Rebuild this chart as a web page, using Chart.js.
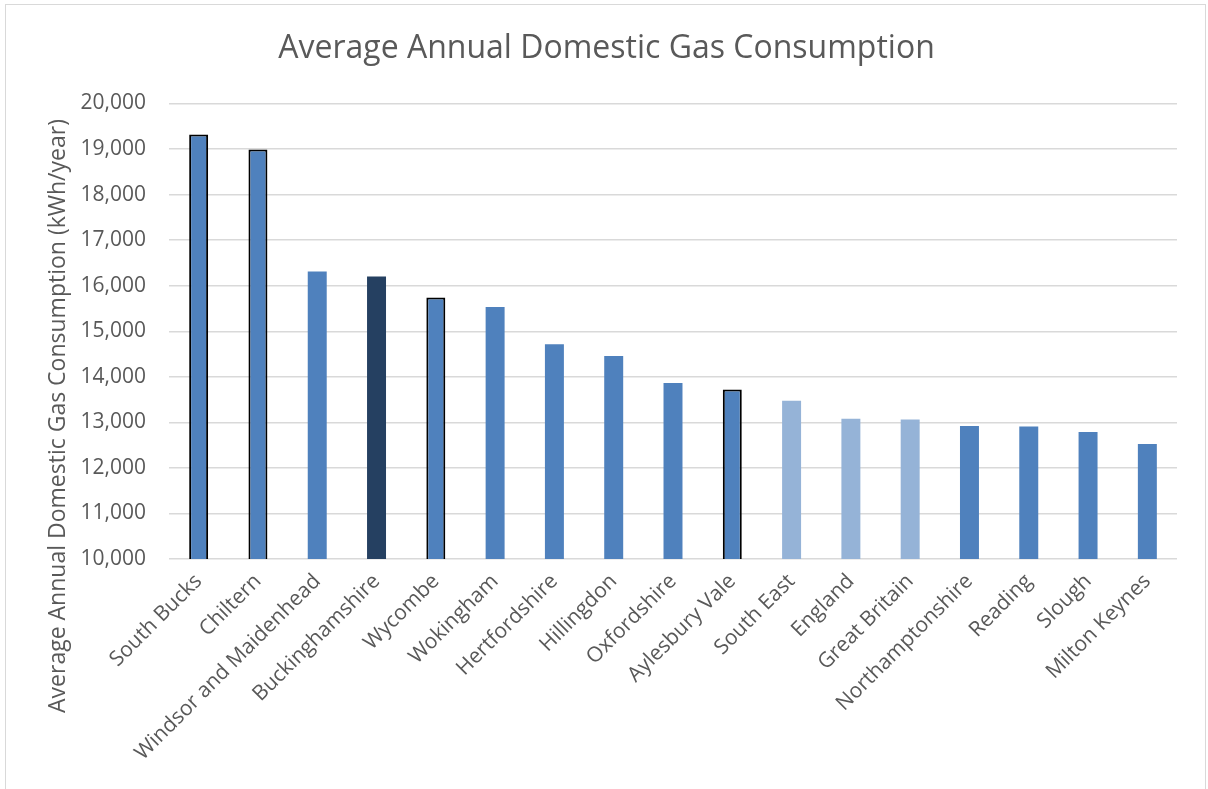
<!DOCTYPE html>
<html>
<head>
<meta charset="utf-8">
<title>Average Annual Domestic Gas Consumption</title>
<script src="https://cdn.jsdelivr.net/npm/chart.js@4"></script>
<style>
  html, body { margin: 0; padding: 0; background: #fff; overflow: hidden; }
  #frame {
    position: absolute; left: 5px; top: 4px;
    width: 1201px; height: 800px;
    border: 1px solid #d9d9d9; box-sizing: border-box;
  }
  #chart { display: block; }
</style>
</head>
<body>
<div id="frame"><canvas id="chart" width="1199" height="798"></canvas></div>
<script>
// Local authorities and comparison areas, highest to lowest
const areas = [
  "South Bucks", "Chiltern", "Windsor and Maidenhead", "Buckinghamshire", "Wycombe",
  "Wokingham", "Hertfordshire", "Hillingdon", "Oxfordshire", "Aylesbury Vale",
  "South East", "England", "Great Britain", "Northamptonshire", "Reading", "Slough", "Milton Keynes"
];
// kWh per household per year
const gasKwh = [
  19320, 18990, 16310, 16200, 15740,
  15530, 14715, 14455, 13865, 13720,
  13475, 13080, 13060, 12920, 12910, 12790, 12525
];
const bucksDistricts = ["South Bucks", "Chiltern", "Wycombe", "Aylesbury Vale"];
const countyName = "Buckinghamshire";
const benchmarks = ["South East", "England", "Great Britain"];

const yTicks = [10000, 11000, 12000, 13000, 14000, 15000, 16000, 17000, 18000, 19000, 20000];
const chartTitle = "Average Annual Domestic Gas Consumption";
const yTitle = "Average Annual Domestic Gas Consumption (kWh/year)";

const TEXT = "#595959";
const FONT = "'Open Sans', 'Noto Sans', sans-serif";

function barColour(name) {
  if (name === countyName) return "#254061";
  if (benchmarks.includes(name)) return "#95b3d7";
  return "#4f81bd";
}

// titles are placed against the whole canvas rather than the plot area
const titles = {
  id: "titles",
  afterDraw(chart) {
    const ctx = chart.ctx;
    ctx.save();
    ctx.fillStyle = TEXT;
    ctx.textAlign = "center";
    ctx.textBaseline = "middle";

    ctx.font = "32px " + FONT;
    ctx.fillText(chartTitle, chart.width / 2 + 1, 44);

    ctx.translate(52, 411);
    ctx.rotate(-Math.PI / 2);
    ctx.font = "23px " + FONT;
    ctx.fillText(yTitle, 0, 0);
    ctx.restore();
  }
};

new Chart(document.getElementById("chart"), {
  type: "bar",
  data: {
    labels: areas,
    datasets: [{
      data: gasKwh,
      backgroundColor: areas.map(barColour),
      borderColor: areas.map(a => bucksDistricts.includes(a) ? "#000000" : "rgba(0,0,0,0)"),
      borderWidth: areas.map(a => bucksDistricts.includes(a) ? 2 : 0),
      barPercentage: 0.32,
      categoryPercentage: 1
    }]
  },
  options: {
    responsive: false,
    animation: false,
    layout: { padding: { left: 0, right: 28, top: 98.5, bottom: 0 } },
    plugins: {
      legend: { display: false },
      tooltip: { enabled: false },
      title: { display: false }
    },
    scales: {
      x: {
        grid: { display: false },
        border: { display: false },
        afterFit: s => { s.height = 798 - 554; },
        ticks: {
          color: TEXT,
          font: { family: FONT, size: 21 },
          minRotation: 45,
          maxRotation: 45,
          autoSkip: false,
          padding: 2
        }
      },
      y: {
        min: yTicks[0],
        max: yTicks[yTicks.length - 1],
        afterFit: s => { s.width = 163; },
        afterBuildTicks: s => { s.ticks = yTicks.map(v => ({ value: v })); },
        border: { display: false },
        grid: { color: "#d9d9d9", lineWidth: 1.5, drawTicks: false },
        ticks: {
          color: TEXT,
          font: { family: FONT, size: 21 },
          padding: 23,
          callback: v => v.toLocaleString("en-GB")
        }
      }
    }
  },
  plugins: [titles]
});
</script>
</body>
</html>
